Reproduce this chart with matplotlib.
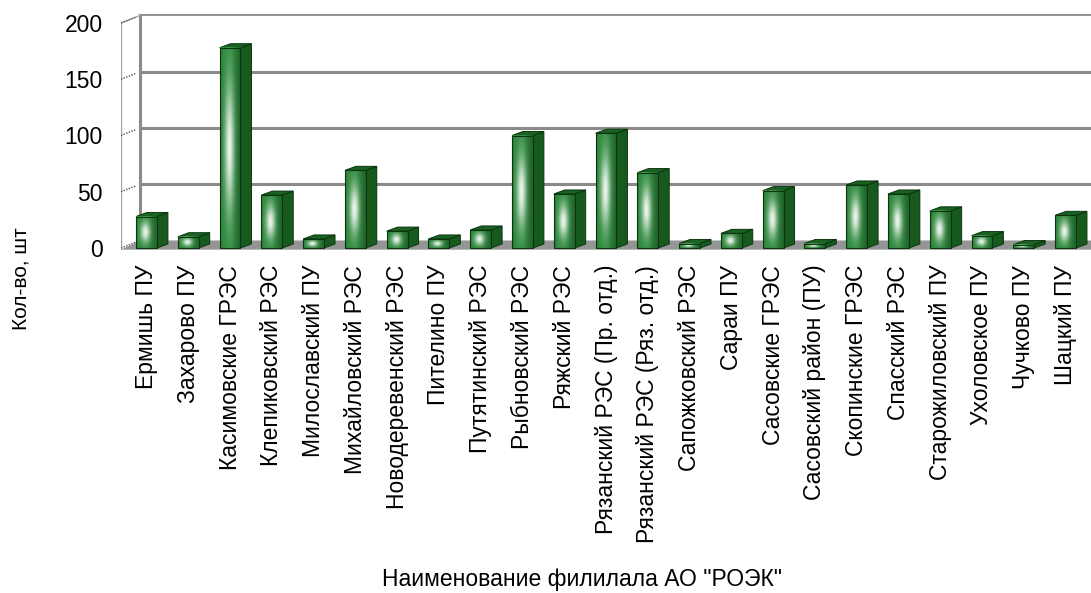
import numpy as np
import matplotlib.pyplot as plt
from matplotlib.patches import Polygon, Rectangle

plt.rcParams['font.family'] = ['Liberation Sans', 'DejaVu Sans']

# данные
branches = [
    "Ермишь ПУ", "Захарово ПУ", "Касимовские ГРЭС", "Клепиковский РЭС",
    "Милославский ПУ", "Михайловский РЭС", "Новодеревенский РЭС", "Пителино ПУ",
    "Путятинский РЭС", "Рыбновский РЭС", "Ряжский РЭС", "Рязанский РЭС (Пр. отд.)",
    "Рязанский РЭС (Ряз. отд.)", "Сапожковский РЭС", "Сараи ПУ", "Сасовские ГРЭС",
    "Сасовский район (ПУ)", "Скопинские ГРЭС", "Спасский РЭС", "Старожиловский ПУ",
    "Ухоловское ПУ", "Чучково ПУ", "Шацкий ПУ",
]
counts = [28, 10, 178, 47, 8, 69, 15, 8, 16, 100, 48, 102,
          67, 4, 13, 51, 4, 56, 48, 33, 11, 3, 29]
y_ticks = [0, 50, 100, 150, 200]
x_title = 'Наименование филилала АО "РОЭК"'
y_title = "Кол-во, шт"

# псевдо-3D: сдвиг "глубины" в единицах данных
bar_w = 0.5
bar_dx, bar_dy = 0.263, 3.6
wall_dx, wall_dy = 0.455, 6.7
x_lo, x_hi = -0.61, 22.61
y_lo, y_hi = -2, 210


def face_image():
    # градиент передней грани: светлый блик посередине
    u = np.linspace(0, 1, 40)[None, :]
    v = np.linspace(0, 1, 90)[:, None]
    base = np.array([0.18, 0.54, 0.24])
    shade = 1 - 0.28 * np.clip((u - 0.55) / 0.45, 0, 1) - 0.15 * np.clip((0.12 - u) / 0.12, 0, 1)
    glow = np.exp(-((u - 0.45) / 0.23) ** 2) * np.exp(-((v - 0.5) / 0.32) ** 2) * 0.95
    col = base[None, None, :] * shade[..., None] * np.ones((90, 1, 1))
    col = col * (1 - glow[..., None]) + glow[..., None] * np.array([0.96, 0.98, 0.96])
    return col


fig = plt.figure(figsize=(10.91, 5.93), dpi=100)
W, H = 1091, 593
left_px, right_px = 121, 1091
px_per_y = 1.125
top_px = 248 - (y_hi - 0) * px_per_y
bot_px = 248 - (y_lo - 0) * px_per_y
ax = fig.add_axes([left_px / W, 1 - bot_px / H, (right_px - left_px) / W, (bot_px - top_px) / H])
ax.set_facecolor('none')

x_far = x_hi + 2
# задняя стенка
ax.add_patch(Polygon([(x_lo + wall_dx, wall_dy), (x_far, wall_dy), (x_far, 200 + wall_dy),
                      (x_lo + wall_dx, 200 + wall_dy)], closed=True, fc='white', ec='none', zorder=0))
for t in y_ticks[1:]:
    lw = 1.3 if t == 200 else 2.2
    ax.plot([x_lo + wall_dx, x_far], [t + wall_dy, t + wall_dy], color='#8a8a8a', lw=lw,
            zorder=1, solid_capstyle='butt')
# пол
ax.add_patch(Polygon([(x_lo, -1.5), (x_far, -1.5), (x_far + wall_dx, wall_dy), (x_lo + wall_dx, wall_dy)],
                     closed=True, fc='#959595', ec='none', zorder=1))
# левая стенка
ax.plot([x_lo + wall_dx, x_lo + wall_dx], [wall_dy, 200 + wall_dy], color='#8a8a8a', lw=2.2, zorder=2)
ax.plot([x_lo, x_lo], [-1.5, 200], color='#a8a8a8', lw=1.0, zorder=2)
ax.plot([x_lo, x_lo + wall_dx], [200, 200 + wall_dy], color='#a8a8a8', lw=1.0, zorder=2)
for t in y_ticks:
    ax.plot([x_lo, x_lo + wall_dx * 0.8], [t, t + wall_dy * 0.8], color='#555555', lw=1.0,
            ls=(0, (1, 1)), zorder=2)

img = face_image()
for i, val in enumerate(counts):
    x0, x1 = i - bar_w / 2, i + bar_w / 2
    # боковая и верхняя грани
    ax.add_patch(Polygon([(x1, 0), (x1 + bar_dx, bar_dy), (x1 + bar_dx, val + bar_dy), (x1, val)],
                         closed=True, fc='#165a1e', ec='#0b340f', lw=0.7, zorder=3))
    ax.add_patch(Polygon([(x0, val), (x0 + bar_dx, val + bar_dy), (x1 + bar_dx, val + bar_dy), (x1, val)],
                         closed=True, fc='#1a6222', ec='#0b340f', lw=0.7, zorder=3))
    ax.imshow(img, extent=(x0, x1, 0, val), aspect='auto', interpolation='bilinear',
              origin='lower', zorder=4)
    ax.add_patch(Rectangle((x0, 0), bar_w, val, fc='none', ec='#0b340f', lw=0.8, zorder=5))

ax.set_xlim(x_lo, x_hi)
ax.set_ylim(y_lo, y_hi)
for s in ax.spines.values():
    s.set_visible(False)
ax.set_yticks(y_ticks)
ax.set_xticks(range(len(branches)))
ax.set_xticklabels(branches, rotation=90, va='top', ha='center')
ax.tick_params(axis='y', length=0, pad=13, labelsize=16.5)
ax.tick_params(axis='x', length=0, pad=10.5, labelsize=16.5)

fig.text(582 / W, 1 - 586 / H, x_title, ha='center', va='baseline', fontsize=16.5)
fig.text(21 / W, 1 - 279 / H, y_title, ha='center', va='center', rotation=90, fontsize=15)

fig.savefig('out.png', dpi=100)
